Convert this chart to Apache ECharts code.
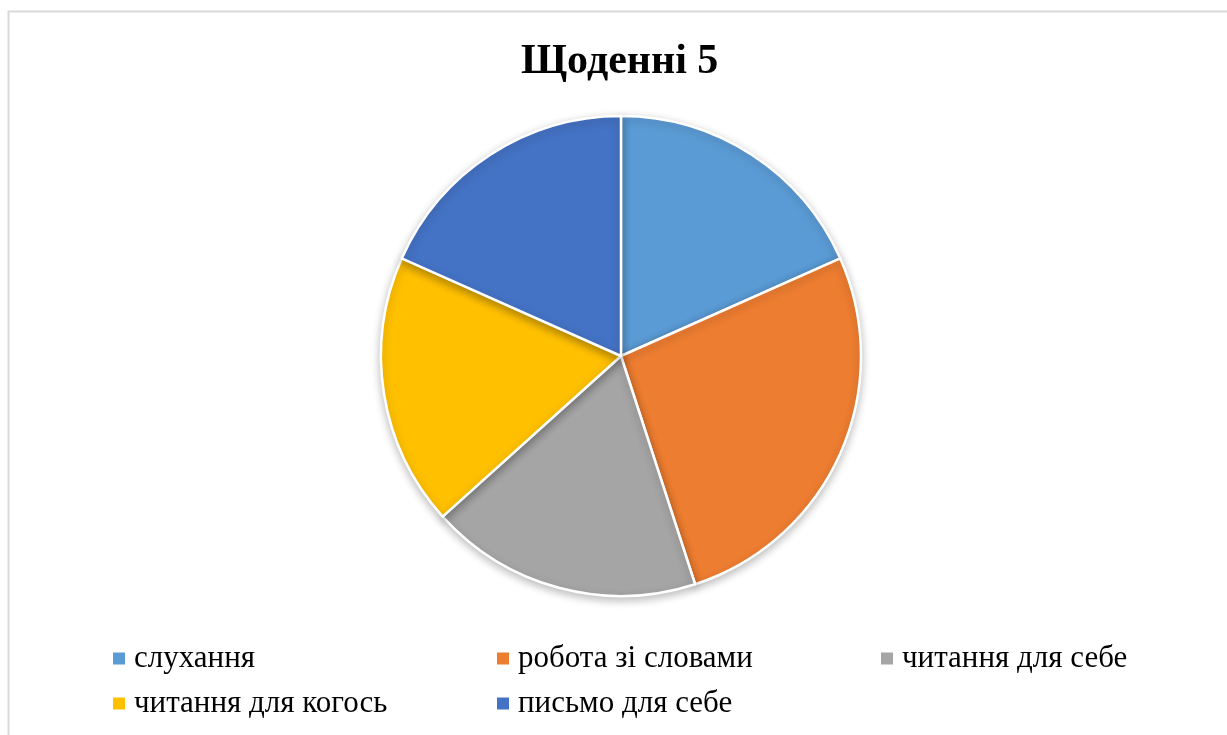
<!DOCTYPE html>
<html>
<head>
<meta charset="utf-8">
<script src="https://cdn.jsdelivr.net/npm/echarts@6/dist/echarts.min.js"></script>
<style>
html,body{margin:0;padding:0;background:#fff;}
#chart{width:1227px;height:735px;}
</style>
</head>
<body>
<div id="chart"></div>
<script>
const titleText = 'Щоденні 5';
const categories = ['слухання', 'робота зі словами', 'читання для себе', 'читання для когось', 'письмо для себе'];
const values = [11, 16, 11, 11, 11];
const colors = ['#5B9BD5', '#ED7D31', '#A5A5A5', '#FFC000', '#4472C4'];

const chart = echarts.init(document.getElementById('chart'));
const serif = '"Liberation Serif", "Times New Roman", serif';
chart.setOption({
  animation: false,
  backgroundColor: '#fff',
  graphic: [{
    type: 'rect',
    shape: { x: 8.5, y: 11.5, width: 1240, height: 760 },
    style: { fill: 'none', stroke: '#d9d9d9', lineWidth: 2 },
    silent: true
  }],
  title: {
    text: titleText,
    left: 521,
    top: 41,
    padding: 0,
    textStyle: { fontFamily: serif, fontSize: 42, fontWeight: 'bold', color: '#000' }
  },
  legend: {
    data: categories,
    left: 108,
    top: 631,
    width: 1160,
    orient: 'horizontal',
    itemWidth: 12,
    itemHeight: 12,
    itemGap: 0,
    icon: 'rect',
    selectedMode: false,
    itemStyle: { borderWidth: 0, shadowBlur: 0, shadowOffsetY: 0 },
    textStyle: {
      fontFamily: serif, fontSize: 31, color: '#000',
      width: 363, lineHeight: 45, padding: [0, 0, 0, 4]
    }
  },
  series: [{
    type: 'pie',
    center: [621, 356],
    radius: 240,
    startAngle: 90,
    clockwise: true,
    label: { show: false },
    labelLine: { show: false },
    emphasis: { disabled: true },
    itemStyle: {
      borderColor: '#fff', borderWidth: 2.5,
      shadowBlur: 8, shadowColor: 'rgba(0,0,0,0.25)', shadowOffsetY: 3
    },
    data: categories.map((c, i) => ({ name: c, value: values[i], itemStyle: { color: colors[i] } }))
  }]
});
</script>
</body>
</html>
